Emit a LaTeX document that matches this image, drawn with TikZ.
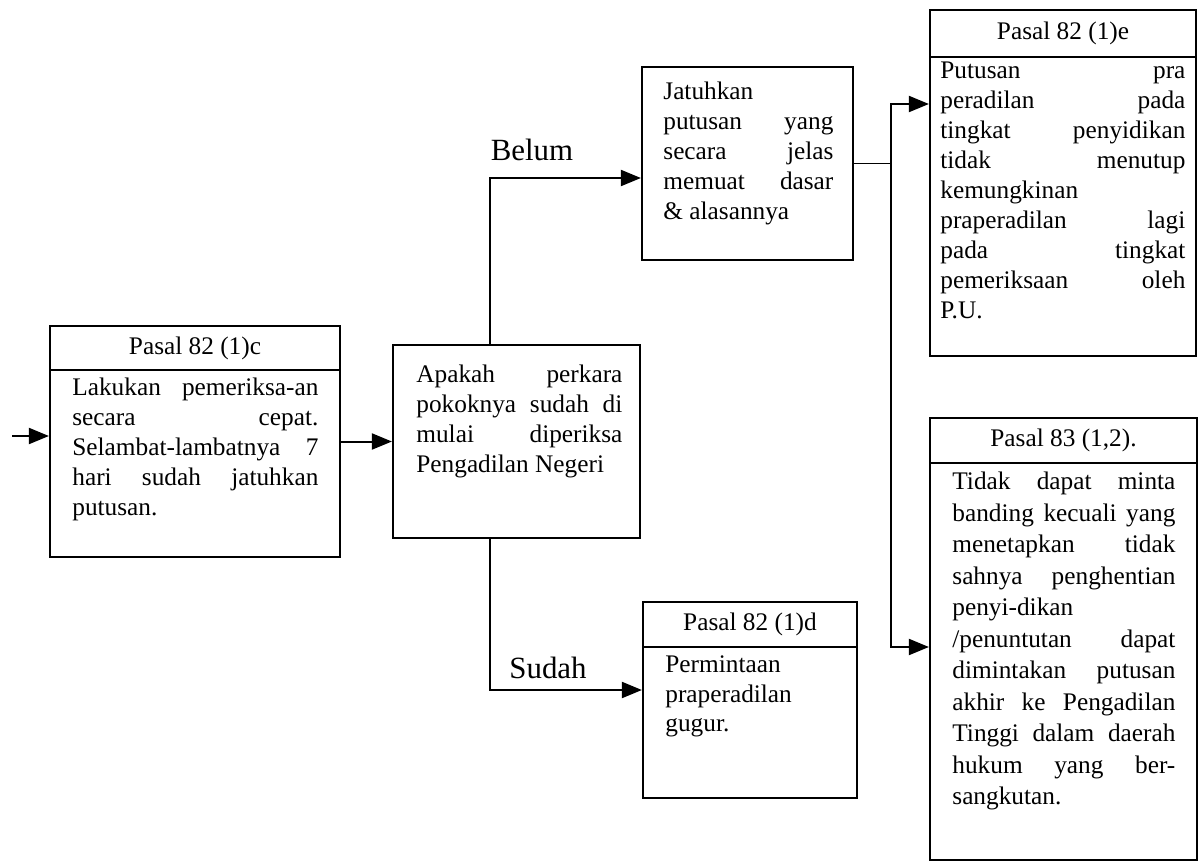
\documentclass[tikz,border=0pt]{standalone}
\usepackage{fontspec}
\setmainfont{Liberation Serif}
\usetikzlibrary{arrows.meta}
\hyphenpenalty=10000
\exhyphenpenalty=10000
\tikzset{
  kotak/.style={draw,line width=1.1pt,inner sep=0pt},
  judul/.style={draw,line width=1.1pt,inner sep=0pt,anchor=north,font=\fontsize{12.7}{15}\selectfont},
  isi/.style={anchor=north west,inner sep=0pt,align=justify,font=\fontsize{12.7}{15}\selectfont},
  panah/.style={line width=1pt,-{Triangle[length=10bp,width=8bp]}},
  tulisan/.style={font=\fontsize{15.5}{18}\selectfont}
}
\begin{document}
\begin{tikzpicture}[scale=.5]
\useasboundingbox (0bp,0bp) rectangle (1199bp,-862bp);
\node (A) at (195bp,-441.5bp)[kotak,minimum width=145bp,minimum height=115.5bp] {};
\node (Aj) at (A.north)[judul,minimum width=145bp,minimum height=22bp] {Pasal 82 (1)c};
\node (Ai) at (72bp,-378bp)[isi,text width=123bp] {Lakukan pemeriksa-an\linebreak secara cepat.\linebreak Selambat-lambatnya 7\linebreak hari sudah jatuhkan\linebreak putusan.};
\node (B) at (516.5bp,-441.5bp)[kotak,minimum width=123.5bp,minimum height=96.5bp] {};
\node (Bi) at (416bp,-365bp)[isi,text width=103bp] {Apakah perkara\linebreak pokoknya sudah di\linebreak mulai diperiksa\linebreak Pengadilan Negeri};
\node (C) at (747.5bp,-163.5bp)[kotak,minimum width=105.5bp,minimum height=96.5bp] {};
\node (Ci) at (663bp,-82bp)[isi,text width=85bp] {Jatuhkan\newline putusan yang\linebreak secara jelas\linebreak memuat dasar\linebreak \& alasannya};
\node (D) at (1063bp,-183bp)[kotak,minimum width=133bp,minimum height=173bp] {};
\node (Dj) at (D.north)[judul,minimum width=133bp,minimum height=23.5bp] {Pasal 82 (1)e};
\node (Di) at (940bp,-62bp)[isi,text width=122.5bp] {Putusan pra\linebreak peradilan pada\linebreak tingkat penyidikan\linebreak tidak menutup\linebreak kemungkinan\newline praperadilan lagi\linebreak pada tingkat\linebreak pemeriksaan oleh\linebreak P.U.};
\node (E) at (1063.5bp,-639bp)[kotak,minimum width=133.5bp,minimum height=221bp] {};
\node (Ej) at (E.north)[judul,minimum width=133.5bp,minimum height=22.5bp] {Pasal 83 (1,2).};
\node (Ei) at (952bp,-472bp)[isi,text width=111.5bp,font=\fontsize{12.7}{15.8}\selectfont] {Tidak dapat minta\linebreak banding kecuali yang\linebreak menetapkan tidak\linebreak sahnya penghentian\linebreak penyi-dikan\newline /penuntutan dapat\linebreak dimintakan putusan\linebreak akhir ke Pengadilan\linebreak Tinggi dalam daerah\linebreak hukum yang ber-\linebreak sangkutan.};
\node (F) at (750bp,-700bp)[kotak,minimum width=107bp,minimum height=98bp] {};
\node (Fj) at (F.north)[judul,minimum width=107bp,minimum height=22.5bp] {Pasal 82 (1)d};
\node (Fi) at (665bp,-655bp)[isi,text width=90bp,align=left] {Permintaan\\ praperadilan\\ gugur.};
\node (tBelum) at (532bp,-150bp)[tulisan] {Belum};
\node (tSudah) at (548bp,-668bp)[tulisan] {Sudah};
\coordinate (masuk) at (12bp,-436bp);
\draw[panah] (masuk) -- (masuk -| A.west);
\draw[panah] (A.east) -- (B.west);
\coordinate (belum) at (490bp,-178bp);
\draw[panah] (B.north -| belum) -- (belum) -- (belum -| C.west);
\coordinate (sudah) at (490bp,-690bp);
\draw[panah] (B.south -| sudah) -- (sudah) -- (sudah -| F.west);
\coordinate (simpang) at (891bp,-163.5bp);
\coordinate (keD) at (891bp,-104bp);
\coordinate (keE) at (891bp,-647bp);
\draw[line width=1pt] (C.east) -- (simpang);
\draw[panah] (simpang) -- (keD) -- (keD -| D.west);
\draw[panah] (simpang) -- (keE) -- (keE -| E.west);
\end{tikzpicture}
\end{document}
